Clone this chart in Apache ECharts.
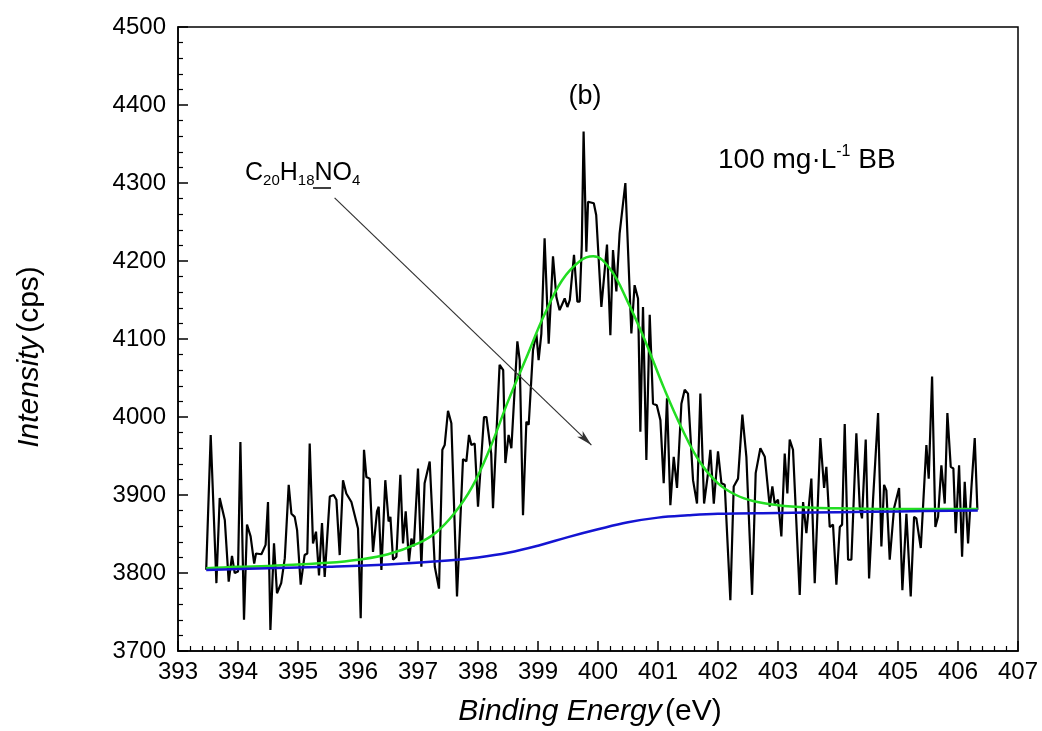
<!DOCTYPE html>
<html>
<head>
<meta charset="utf-8">
<script src="https://cdn.jsdelivr.net/npm/echarts@6/dist/echarts.min.js"></script>
<style>
  html, body { margin: 0; padding: 0; background: #fff; }
  #chart { width: 1042px; height: 731px; }
</style>
</head>
<body>
<div id="chart"></div>
<script>
// raw spectrum (eV / cps)
const energy = [
  393.47, 393.545, 393.64, 393.695, 393.78, 393.845, 393.9, 393.945, 394.0, 394.04,
  394.1, 394.15, 394.21, 394.27, 394.3, 394.39, 394.46, 394.5, 394.54, 394.6,
  394.65, 394.72, 394.78, 394.845, 394.89, 394.945, 394.985, 395.045, 395.11, 395.155,
  395.195, 395.25, 395.3, 395.35, 395.4, 395.445, 395.53, 395.595, 395.64, 395.695,
  395.75, 395.805, 395.89, 396.0, 396.045, 396.1, 396.14, 396.195, 396.25, 396.317,
  396.345, 396.39, 396.455, 396.51, 396.54, 396.584, 396.64, 396.706, 396.75, 396.795,
  396.85, 396.89, 396.93, 397.0, 397.056, 397.11, 397.195, 397.28, 397.35, 397.406,
  397.445, 397.5, 397.556, 397.65, 397.75, 397.806, 397.85, 397.89, 397.945, 398.0,
  398.1, 398.14, 398.22, 398.25, 398.36, 398.42, 398.456, 398.51, 398.556, 398.656,
  398.695, 398.75, 398.806, 398.845, 398.917, 398.973, 399.01, 399.056, 399.11, 399.178,
  399.25, 399.306, 399.36, 399.445, 399.49, 399.53, 399.6, 399.656, 399.695, 399.73,
  399.76, 399.806, 399.834, 399.93, 399.97, 400.056, 400.15, 400.206, 400.25, 400.306,
  400.36, 400.456, 400.556, 400.61, 400.667, 400.706, 400.75, 400.806, 400.862, 400.917,
  400.98, 401.04, 401.095, 401.15, 401.206, 401.262, 401.317, 401.39, 401.445, 401.5,
  401.584, 401.65, 401.706, 401.768, 401.834, 401.873, 401.93, 402.0, 402.057, 402.112,
  402.206, 402.262, 402.334, 402.406, 402.473, 402.568, 402.628, 402.706, 402.78, 402.862,
  402.906, 402.945, 403.0, 403.056, 403.112, 403.156, 403.195, 403.25, 403.362, 403.418,
  403.473, 403.556, 403.612, 403.706, 403.768, 403.806, 403.862, 403.917, 403.973, 404.03,
  404.068, 404.112, 404.168, 404.223, 404.306, 404.362, 404.4, 404.462, 404.518, 404.584,
  404.668, 404.723, 404.768, 404.806, 404.862, 404.934, 405.018, 405.073, 405.14, 405.212,
  405.268, 405.306, 405.38, 405.473, 405.512, 405.568, 405.623, 405.668, 405.723, 405.779,
  405.823, 405.879, 405.923, 405.962, 406.018, 406.068, 406.112, 406.168, 406.223, 406.279,
  406.323
]
const counts = [
  3804, 3977, 3787, 3896, 3868, 3789, 3822, 3800, 3802, 3968,
  3740, 3862, 3847, 3812, 3825, 3824, 3836, 3891, 3727, 3838,
  3774, 3787, 3819, 3913, 3876, 3872, 3855, 3785, 3823, 3825,
  3966, 3838, 3853, 3797, 3864, 3795, 3898, 3900, 3894, 3823,
  3919, 3902, 3891, 3857, 3742, 3958, 3923, 3921, 3827, 3879,
  3885, 3804, 3919, 3866, 3872, 3817, 3821, 3926, 3838, 3879,
  3815, 3844, 3834, 3934, 3808, 3915, 3943, 3808, 3780, 3958,
  3964, 4008, 3992, 3770, 3946, 3943, 3977, 3964, 3966, 3885,
  4000, 4000, 3953, 3883, 4067, 4060, 3941, 3977, 3960, 4097,
  4073, 3874, 3994, 3990, 4086, 4107, 4073, 4107, 4229, 4094,
  4206, 4154, 4137, 4152, 4141, 4150, 4208, 4148, 4148, 4221,
  4366, 4212, 4276, 4274, 4259, 4141, 4221, 4105, 4214, 4161,
  4235, 4300, 4107, 4169, 4152, 3981, 4141, 3945, 4131, 4017,
  4015, 3996, 3915, 4024, 3887, 3949, 3909, 4017, 4035, 4030,
  3919, 3889, 4030, 3889, 3928, 3958, 3889, 3956, 3915, 3913,
  3765, 3911, 3921, 4003, 3949, 3772, 3928, 3960, 3949, 3885,
  3911, 3889, 3894, 3847, 3953, 3902, 3971, 3958, 3772, 3891,
  3851, 3921, 3787, 3973, 3909, 3936, 3859, 3862, 3785, 3859,
  3862, 3991, 3817, 3817, 3979, 3885, 3870, 3971, 3793, 3894,
  4005, 3834, 3913, 3906, 3817, 3883, 3909, 3778, 3876, 3770,
  3872, 3870, 3832, 3964, 3921, 4052, 3859, 3872, 3938, 3889,
  4005, 3936, 3934, 3851, 3938, 3821, 3917, 3838, 3909, 3973,
  3881
]

// fitted peak (green)
const fitEnergy = [
  393.47, 394.0, 394.5, 395.0, 395.5, 396.0, 396.5, 397.0, 397.3, 397.6,
  397.9, 398.2, 398.5, 398.8, 399.1, 399.4, 399.7, 399.92, 400.2, 400.5,
  400.8, 401.1, 401.4, 401.7, 402.0, 402.3, 402.6, 403.0, 403.5, 404.0,
  405.0, 406.33
]
const fitCounts = [
  3806, 3808, 3809, 3811, 3813, 3817, 3824, 3838, 3852, 3876,
  3910, 3960, 4020, 4075, 4130, 4175, 4200, 4206, 4190, 4147,
  4095, 4037, 3985, 3942, 3915, 3900, 3892, 3887, 3884, 3883,
  3882, 3882
]

// background (blue)
const bgEnergy = [393.47, 394.5, 395.5, 396.5, 397.5, 398.0, 398.5, 399.0, 399.5, 400.0, 400.5, 401.0, 401.5, 402.0, 403.0, 404.0, 405.0, 406.33]
const bgCounts = [3804, 3806, 3808, 3811, 3816, 3820, 3826, 3835, 3846, 3856, 3865, 3871, 3874, 3876, 3877, 3878, 3879, 3880]

// arrow: from label to peak
const arrowFrom = [395.61, 4281]
const arrowTo = [399.89, 3964]

const FONT = '"Liberation Sans", Arial, sans-serif'

const zip = (xs, ys) => xs.map((x, i) => [x, ys[i]])

const chart = echarts.init(document.getElementById('chart'))

const titleRich = {
  i: { fontSize: 30, fontStyle: 'italic', fontFamily: FONT, color: '#000' },
  n: { fontSize: 30, fontFamily: FONT, color: '#000' },
}

const option = {
  backgroundColor: '#fff',
  animation: false,
  textStyle: { fontFamily: FONT, color: '#000' },
  grid: {
    left: 178, right: 24, top: 27, bottom: 80,
    show: true, borderColor: '#000', borderWidth: 1.5,
  },
  xAxis: {
    type: 'value',
    min: 393,
    max: 407,
    interval: 1,
    axisLine: { lineStyle: { color: '#000', width: 1.5 } },
    axisTick: { inside: true, length: 10, lineStyle: { color: '#000', width: 1.5 } },
    minorTick: { show: true, splitNumber: 5, length: 5, lineStyle: { color: '#000', width: 1.2 } },
    axisLabel: { fontSize: 24, color: '#000', margin: 9, fontFamily: FONT },
    splitLine: { show: false },
  },
  yAxis: {
    type: 'value',
    min: 3700,
    max: 4500,
    interval: 100,
    axisLine: { show: true, lineStyle: { color: '#000', width: 1.5 } },
    axisTick: { inside: true, length: 10, lineStyle: { color: '#000', width: 1.5 } },
    minorTick: { show: true, splitNumber: 5, length: 5, lineStyle: { color: '#000', width: 1.2 } },
    axisLabel: {
      fontSize: 24, color: '#000', margin: 12, fontFamily: FONT,
      formatter: v => String(v),
    },
    splitLine: { show: false },
  },
  series: [
    {
      name: 'raw',
      type: 'line',
      data: zip(energy, counts),
      showSymbol: false,
      lineStyle: { color: '#000', width: 2.2 },
      z: 2,
      markLine: {
        silent: true,
        symbol: ['none', 'arrow'],
        symbolSize: [6, 16],
        label: { show: false },
        lineStyle: { color: '#333', width: 1.2, type: 'solid' },
        data: [[{ coord: arrowFrom }, { coord: arrowTo }]],
      },
    },
    {
      name: 'fit',
      type: 'line',
      data: zip(fitEnergy, fitCounts),
      showSymbol: false,
      smooth: 0.4,
      lineStyle: { color: '#22dd22', width: 2.5 },
      z: 3,
    },
    {
      name: 'background',
      type: 'line',
      data: zip(bgEnergy, bgCounts),
      showSymbol: false,
      smooth: 0.4,
      lineStyle: { color: '#1414d2', width: 2.5 },
      z: 4,
    },
  ],
  graphic: [
    {
      type: 'text',
      x: 590,
      y: 712,
      style: {
        text: '{i|Binding Energy} {n|(eV)}',
        align: 'center',
        verticalAlign: 'middle',
        rich: titleRich,
      },
    },
    {
      type: 'text',
      x: 30,
      y: 357,
      rotation: Math.PI / 2,
      style: {
        text: '{i|Intensity} {n|(cps)}',
        align: 'center',
        verticalAlign: 'middle',
        rich: titleRich,
      },
    },
    {
      type: 'text',
      x: 585,
      y: 97,
      style: { text: '(b)', font: '27px ' + FONT, fill: '#000', align: 'center', verticalAlign: 'middle' },
    },
    {
      type: 'text',
      x: 718,
      y: 160,
      style: {
        text: '{a|100 mg·L}{s|-1}{a| BB}',
        verticalAlign: 'middle',
        fill: '#000',
        rich: {
          a: { fontSize: 28, fontFamily: FONT, lineHeight: 32, verticalAlign: 'middle' },
          s: { fontSize: 16, fontFamily: FONT, lineHeight: 15, verticalAlign: 'top' },
        },
      },
    },
    {
      type: 'text',
      x: 245,
      y: 173,
      style: {
        text: '{a|C}{s|20}{a|H}{s|18}{a|NO}{s|4}',
        verticalAlign: 'middle',
        fill: '#000',
        rich: {
          a: { fontSize: 25, fontFamily: FONT, lineHeight: 30, verticalAlign: 'middle' },
          s: { fontSize: 15, fontFamily: FONT, lineHeight: 8, verticalAlign: 'bottom' },
        },
      },
    },
    {
      type: 'line',
      shape: { x1: 313, y1: 188, x2: 331, y2: 188 },
      style: { stroke: '#000', lineWidth: 1.5 },
    },
  ],
}

chart.setOption(option)
</script>
</body>
</html>
